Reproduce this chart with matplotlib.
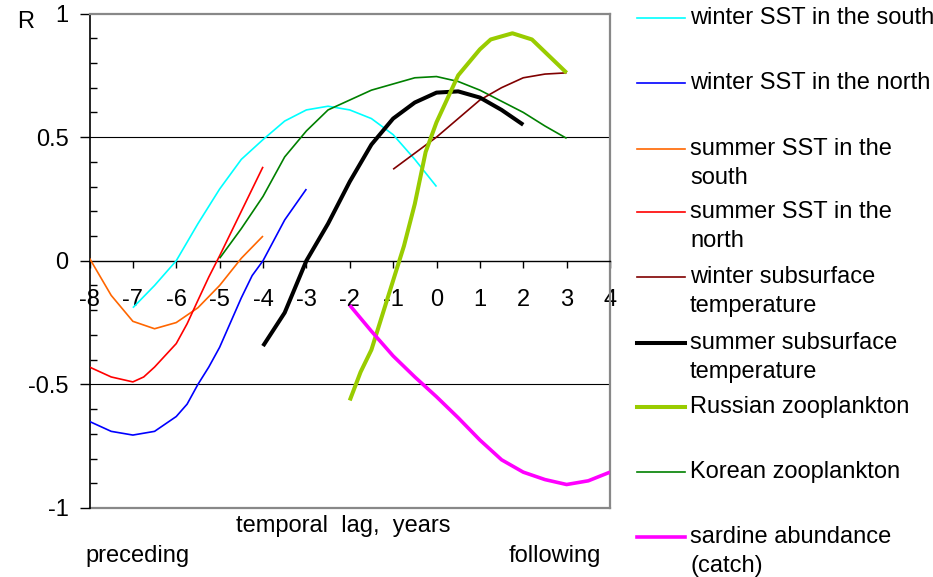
import matplotlib
matplotlib.use("Agg")
import matplotlib.pyplot as plt
from matplotlib.lines import Line2D
from matplotlib.ticker import MultipleLocator

plt.rcParams["font.family"] = ["Liberation Sans", "DejaVu Sans"]

# lag (years) and correlation R for each series
cyan_x = [-7, -6.5, -6, -5.5, -5, -4.5, -4, -3.5, -3, -2.5, -2, -1.5, -1, -0.5, 0]
cyan_y = [-0.19, -0.10, 0.0, 0.15, 0.29, 0.41, 0.49, 0.565, 0.61, 0.625, 0.61, 0.575, 0.51, 0.41, 0.30]

blue_x = [-8, -7.5, -7, -6.5, -6, -5.75, -5.5, -5.25, -5, -4.75, -4.5, -4.25, -4, -3.5, -3]
blue_y = [-0.65, -0.69, -0.705, -0.69, -0.63, -0.58, -0.50, -0.43, -0.35, -0.25, -0.15, -0.06, 0.0, 0.165, 0.29]

orange_x = [-8, -7.5, -7, -6.5, -6, -5.5, -5, -4.5, -4]
orange_y = [0.01, -0.14, -0.245, -0.275, -0.25, -0.19, -0.10, 0.01, 0.10]

red_x = [-8, -7.5, -7, -6.75, -6.5, -6, -5.75, -5.5, -5.25, -5, -4.5, -4]
red_y = [-0.43, -0.47, -0.49, -0.47, -0.43, -0.335, -0.255, -0.16, -0.066, 0.02, 0.20, 0.38]

dkred_x = [-1, -0.5, 0, 0.5, 1, 1.5, 2, 2.5, 3]
dkred_y = [0.37, 0.435, 0.50, 0.575, 0.65, 0.70, 0.74, 0.755, 0.76]

black_x = [-4, -3.5, -3, -2.5, -2, -1.5, -1, -0.5, 0, 0.5, 1, 1.5, 2]
black_y = [-0.345, -0.21, 0.0, 0.15, 0.32, 0.47, 0.575, 0.64, 0.68, 0.685, 0.66, 0.61, 0.55]

russ_x = [-2, -1.75, -1.5, -1.25, -1, -0.75, -0.5, -0.25, 0, 0.5, 1, 1.25, 1.75, 2.2, 3]
russ_y = [-0.565, -0.45, -0.36, -0.22, -0.08, 0.06, 0.23, 0.44, 0.56, 0.75, 0.855, 0.895, 0.92, 0.895, 0.76]

korea_x = [-5, -4.5, -4, -3.5, -3, -2.5, -2, -1.5, -1, -0.5, 0, 0.5, 1, 1.5, 2, 2.5, 3]
korea_y = [0.01, 0.13, 0.26, 0.42, 0.525, 0.61, 0.65, 0.69, 0.715, 0.74, 0.745, 0.725, 0.69, 0.645, 0.60, 0.545, 0.495]

sard_x = [-2, -1.5, -1, -0.5, 0, 0.5, 1, 1.5, 2, 2.5, 3, 3.5, 4]
sard_y = [-0.18, -0.285, -0.385, -0.47, -0.55, -0.635, -0.725, -0.805, -0.855, -0.885, -0.905, -0.89, -0.855]

series = [
    ("winter SST in the south", cyan_x, cyan_y, "#00FFFF", 1.2),
    ("winter SST in the north", blue_x, blue_y, "#0000FF", 1.2),
    ("summer SST in the\nsouth", orange_x, orange_y, "#FF6600", 1.2),
    ("summer SST in the\nnorth", red_x, red_y, "#FF0000", 1.2),
    ("winter subsurface\ntemperature", dkred_x, dkred_y, "#800000", 1.2),
    ("summer subsurface\ntemperature", black_x, black_y, "#000000", 2.9),
    ("Russian zooplankton", russ_x, russ_y, "#99CC00", 2.9),
    ("Korean zooplankton", korea_x, korea_y, "#008000", 1.2),
    ("sardine abundance\n(catch)", sard_x, sard_y, "#FF00FF", 2.6),
]
# legend row centres (pixels from top)
legend_rows = [18, 83, 149, 212, 277, 343, 407, 472, 537]

W, H = 933, 577
fig = plt.figure(figsize=(W / 100, H / 100), dpi=100)
ax = fig.add_axes([89.5 / W, 1 - 508 / H, (610 - 89.5) / W, (508 - 13.5) / H])

draw_order = [0, 1, 2, 3, 7, 4, 5, 6, 8]
for i in draw_order:
    label, xs, ys, c, lw = series[i]
    ax.plot(xs, ys, color=c, lw=lw, solid_capstyle="butt", zorder=3)

ax.set_xlim(-8, 4)
ax.set_ylim(-1, 1)

# frame: gray on top/right/bottom, black left, x axis through zero
gray = "#888888"
for s in ["top", "right"]:
    ax.spines[s].set_color(gray)
    ax.spines[s].set_linewidth(1.6)
ax.axhline(-1, color=gray, lw=1.6, clip_on=False, zorder=1)
ax.spines["bottom"].set_position(("data", 0))
ax.spines["bottom"].set_color("black")
ax.spines["bottom"].set_linewidth(1.0)
ax.spines["left"].set_linewidth(1.2)
for yv in [0.5, -0.5]:
    ax.axhline(yv, color="black", lw=0.8, zorder=1)

ax.yaxis.set_minor_locator(MultipleLocator(0.1))
ax.set_yticks([-1, -0.5, 0, 0.5, 1])
ax.set_yticklabels(["-1", "-0.5", "0", "0.5", "1"])
ax.set_xticks(range(-8, 5))
ax.set_xticklabels([str(v) for v in range(-8, 5)])
ax.tick_params(axis="x", direction="out", length=5, width=1, pad=15,
               labelsize=17)
ax.tick_params(axis="y", which="major", direction="out", length=7, width=1,
               pad=8, labelsize=17)
ax.tick_params(axis="y", which="minor", direction="in", length=5, width=1)

fig.text(17 / W, 1 - 22 / H, "R", fontsize=17, va="center", ha="left")
fig.text(343 / W, 1 - 526 / H, "temporal  lag,  years", fontsize=17,
         ha="center", va="center")
fig.text(85 / W, 1 - 556 / H, "preceding", fontsize=17, ha="left", va="center")
fig.text(601 / W, 1 - 556 / H, "following", fontsize=17, ha="right", va="center")

# legend drawn by hand to follow the original's uneven spacing
for (label, xs, ys, c, lw), row in zip(series, legend_rows):
    fy = 1 - row / H
    fig.add_artist(Line2D([637 / W, 685 / W], [fy, fy], color=c, lw=lw,
                          transform=fig.transFigure))
    for k, part in enumerate(label.split("\n")):
        fig.text(690 / W, 1 - (row + 29 * k) / H, part, fontsize=17,
                 ha="left", va="center")

fig.savefig("out.png", dpi=100)
